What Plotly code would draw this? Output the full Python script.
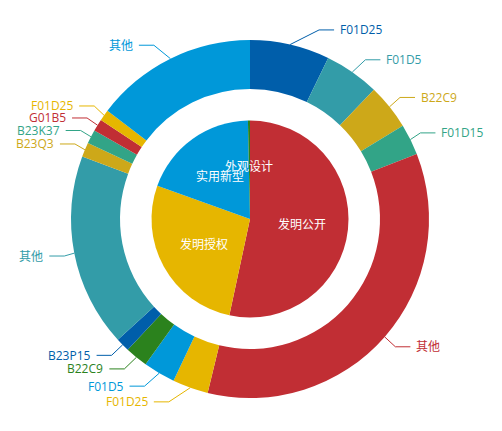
import math
import plotly.graph_objects as go

# patent types (inner pie)
type_names = ['发明公开', '发明授权', '实用新型', '外观设计']
type_values = [1921, 977, 690, 12]

# top IPC groups inside each type (outer ring), in drawing order
ipc_names = ['F01D25', 'F01D5', 'B22C9', 'F01D15', '其他',
             'F01D25', 'F01D5', 'B22C9', 'B23P15', '其他',
             'B23Q3', 'B23K37', 'G01B5', 'F01D25', '其他']
ipc_values = [259, 179, 148, 101, 1250,
              116, 104, 74, 45, 628,
              47, 45, 40, 36, 528]

# shine palette
palette = ['#c12e34', '#e6b600', '#0098d9', '#2b821d',
           '#005eaa', '#339ca8', '#cda819', '#32a487']
type_colors = palette[:len(type_names)]
ipc_colors = [palette[(i + 4) % len(palette)] for i in range(len(ipc_names))]

W, H = 502, 431
# the page body has an 8px margin, so the chart centre is pulled back by 8px
cx, cy = 250 - 8, 219 - 8
R_OUT, R_HOLE, R_PIE = 179, 130, 98.5
FONT = 'Open Sans, Noto Sans CJK SC, sans-serif'


def dom(r):
    return dict(x=[(cx - r) / W, (cx + r) / W], y=[1 - (cy + r) / H, 1 - (cy - r) / H])


def px(x, y):
    return x / W, 1 - y / H


def mid_angles(values):
    total = float(sum(values))
    out, acc = [], 0
    for v in values:
        out.append((acc + v / 2) / total * 2 * math.pi)
        acc += v
    return out


# outer label layout, same idea as echarts' pie label overlap handling
def layout_labels(values, r, len1=15, len2=15, gap=5, h=12):
    items = []
    for i, a in enumerate(mid_angles(values)):
        dx, dy = math.sin(a), -math.cos(a)
        x1, y1 = cx + r * dx, cy + r * dy
        x2, y2 = x1 + dx * len1, y1 + dy * len1
        side = -1 if dx < 0 else 1
        items.append(dict(i=i, x=x2 + side * (len2 + gap), y=y2, side=side, p0=(x1, y1)))

    for side in (-1, 1):
        lst = sorted([it for it in items if it['side'] == side], key=lambda it: it['y'])
        n = len(lst)

        def shift_up(end, delta):
            for j in range(end, -1, -1):
                if lst[j]['y'] - delta < 0:
                    break
                lst[j]['y'] -= delta
                if j > 0 and lst[j]['y'] > lst[j - 1]['y'] + h:
                    break

        def shift_down(start, delta):
            for j in range(start, n):
                if lst[j]['y'] + delta > H:
                    break
                lst[j]['y'] += delta
                if j > start and j + 1 < n and lst[j + 1]['y'] > lst[j]['y'] + h:
                    shift_up(j, delta / 2)
                    return
            shift_up(n - 1, delta / 2)

        last = 0
        for i in range(n):
            d = lst[i]['y'] - last
            if d < 0:
                shift_down(i, -d)
            last = lst[i]['y'] + h
        if H - last < 0:
            shift_up(n - 1, last - H)

        for is_down in (False, True):
            part = [it for it in lst if (it['y'] >= cy) == is_down]
            last_dx = 1e9 if is_down else 0
            for it in part:
                ddy = abs(it['y'] - cy)
                if ddy < r + len1:
                    ddx = math.sqrt((r + len1 + len2) ** 2 - ddy ** 2)
                else:
                    ddx = abs(it['x'] - cx)
                if is_down and ddx >= last_dx:
                    ddx = last_dx - 10
                if not is_down and ddx <= last_dx:
                    ddx = last_dx + 10
                it['x'] = cx + ddx * side
                last_dx = ddx

    for it in items:
        p2x = it['x'] - it['side'] * gap
        it['p1'] = (p2x - it['side'] * len2, it['y'])
        it['p2'] = (p2x, it['y'])
    return items


fig = go.Figure()

fig.add_trace(go.Pie(
    labels=[f'{n}_{i}' for i, n in enumerate(ipc_names)],
    values=ipc_values, text=ipc_names,
    marker=dict(colors=ipc_colors, line=dict(width=0)),
    hole=R_HOLE / R_OUT, sort=False, direction='clockwise', rotation=0,
    textinfo='none', hoverinfo='text+value+percent', domain=dom(R_OUT),
))

fig.add_trace(go.Pie(
    labels=type_names, values=type_values,
    marker=dict(colors=type_colors, line=dict(width=0)),
    sort=False, direction='clockwise', rotation=0,
    textinfo='none', hoverinfo='label+value+percent', domain=dom(R_PIE),
))

annotations = []
shapes = []

# inner labels
for name, a in zip(type_names, mid_angles(type_values)):
    rr = R_PIE / 2 + 3
    x, y = px(cx + rr * math.sin(a), cy - rr * math.cos(a))
    annotations.append(dict(x=x, y=y, xref='paper', yref='paper', text=name,
                            showarrow=False, xanchor='center', yanchor='middle',
                            font=dict(family=FONT, size=12, color='white')))

# outer labels with leader lines
for it in layout_labels(ipc_values, R_OUT):
    col = ipc_colors[it['i']]
    for a, b in ((it['p0'], it['p1']), (it['p1'], it['p2'])):
        x0, y0 = px(*a)
        x1, y1 = px(*b)
        shapes.append(dict(type='line', xref='paper', yref='paper',
                           x0=x0, y0=y0, x1=x1, y1=y1,
                           line=dict(color=col, width=1)))
    x, y = px(it['x'], it['y'])
    annotations.append(dict(x=x, y=y, xref='paper', yref='paper', text=ipc_names[it['i']],
                            showarrow=False, xanchor='left' if it['side'] > 0 else 'right',
                            yanchor='middle', borderpad=0,
                            font=dict(family=FONT, size=12, color=col)))

fig.update_layout(
    width=W, height=H,
    margin=dict(l=0, r=0, t=0, b=0),
    paper_bgcolor='white', plot_bgcolor='white',
    showlegend=False,
    annotations=annotations, shapes=shapes,
)

fig.write_html('out.html')
